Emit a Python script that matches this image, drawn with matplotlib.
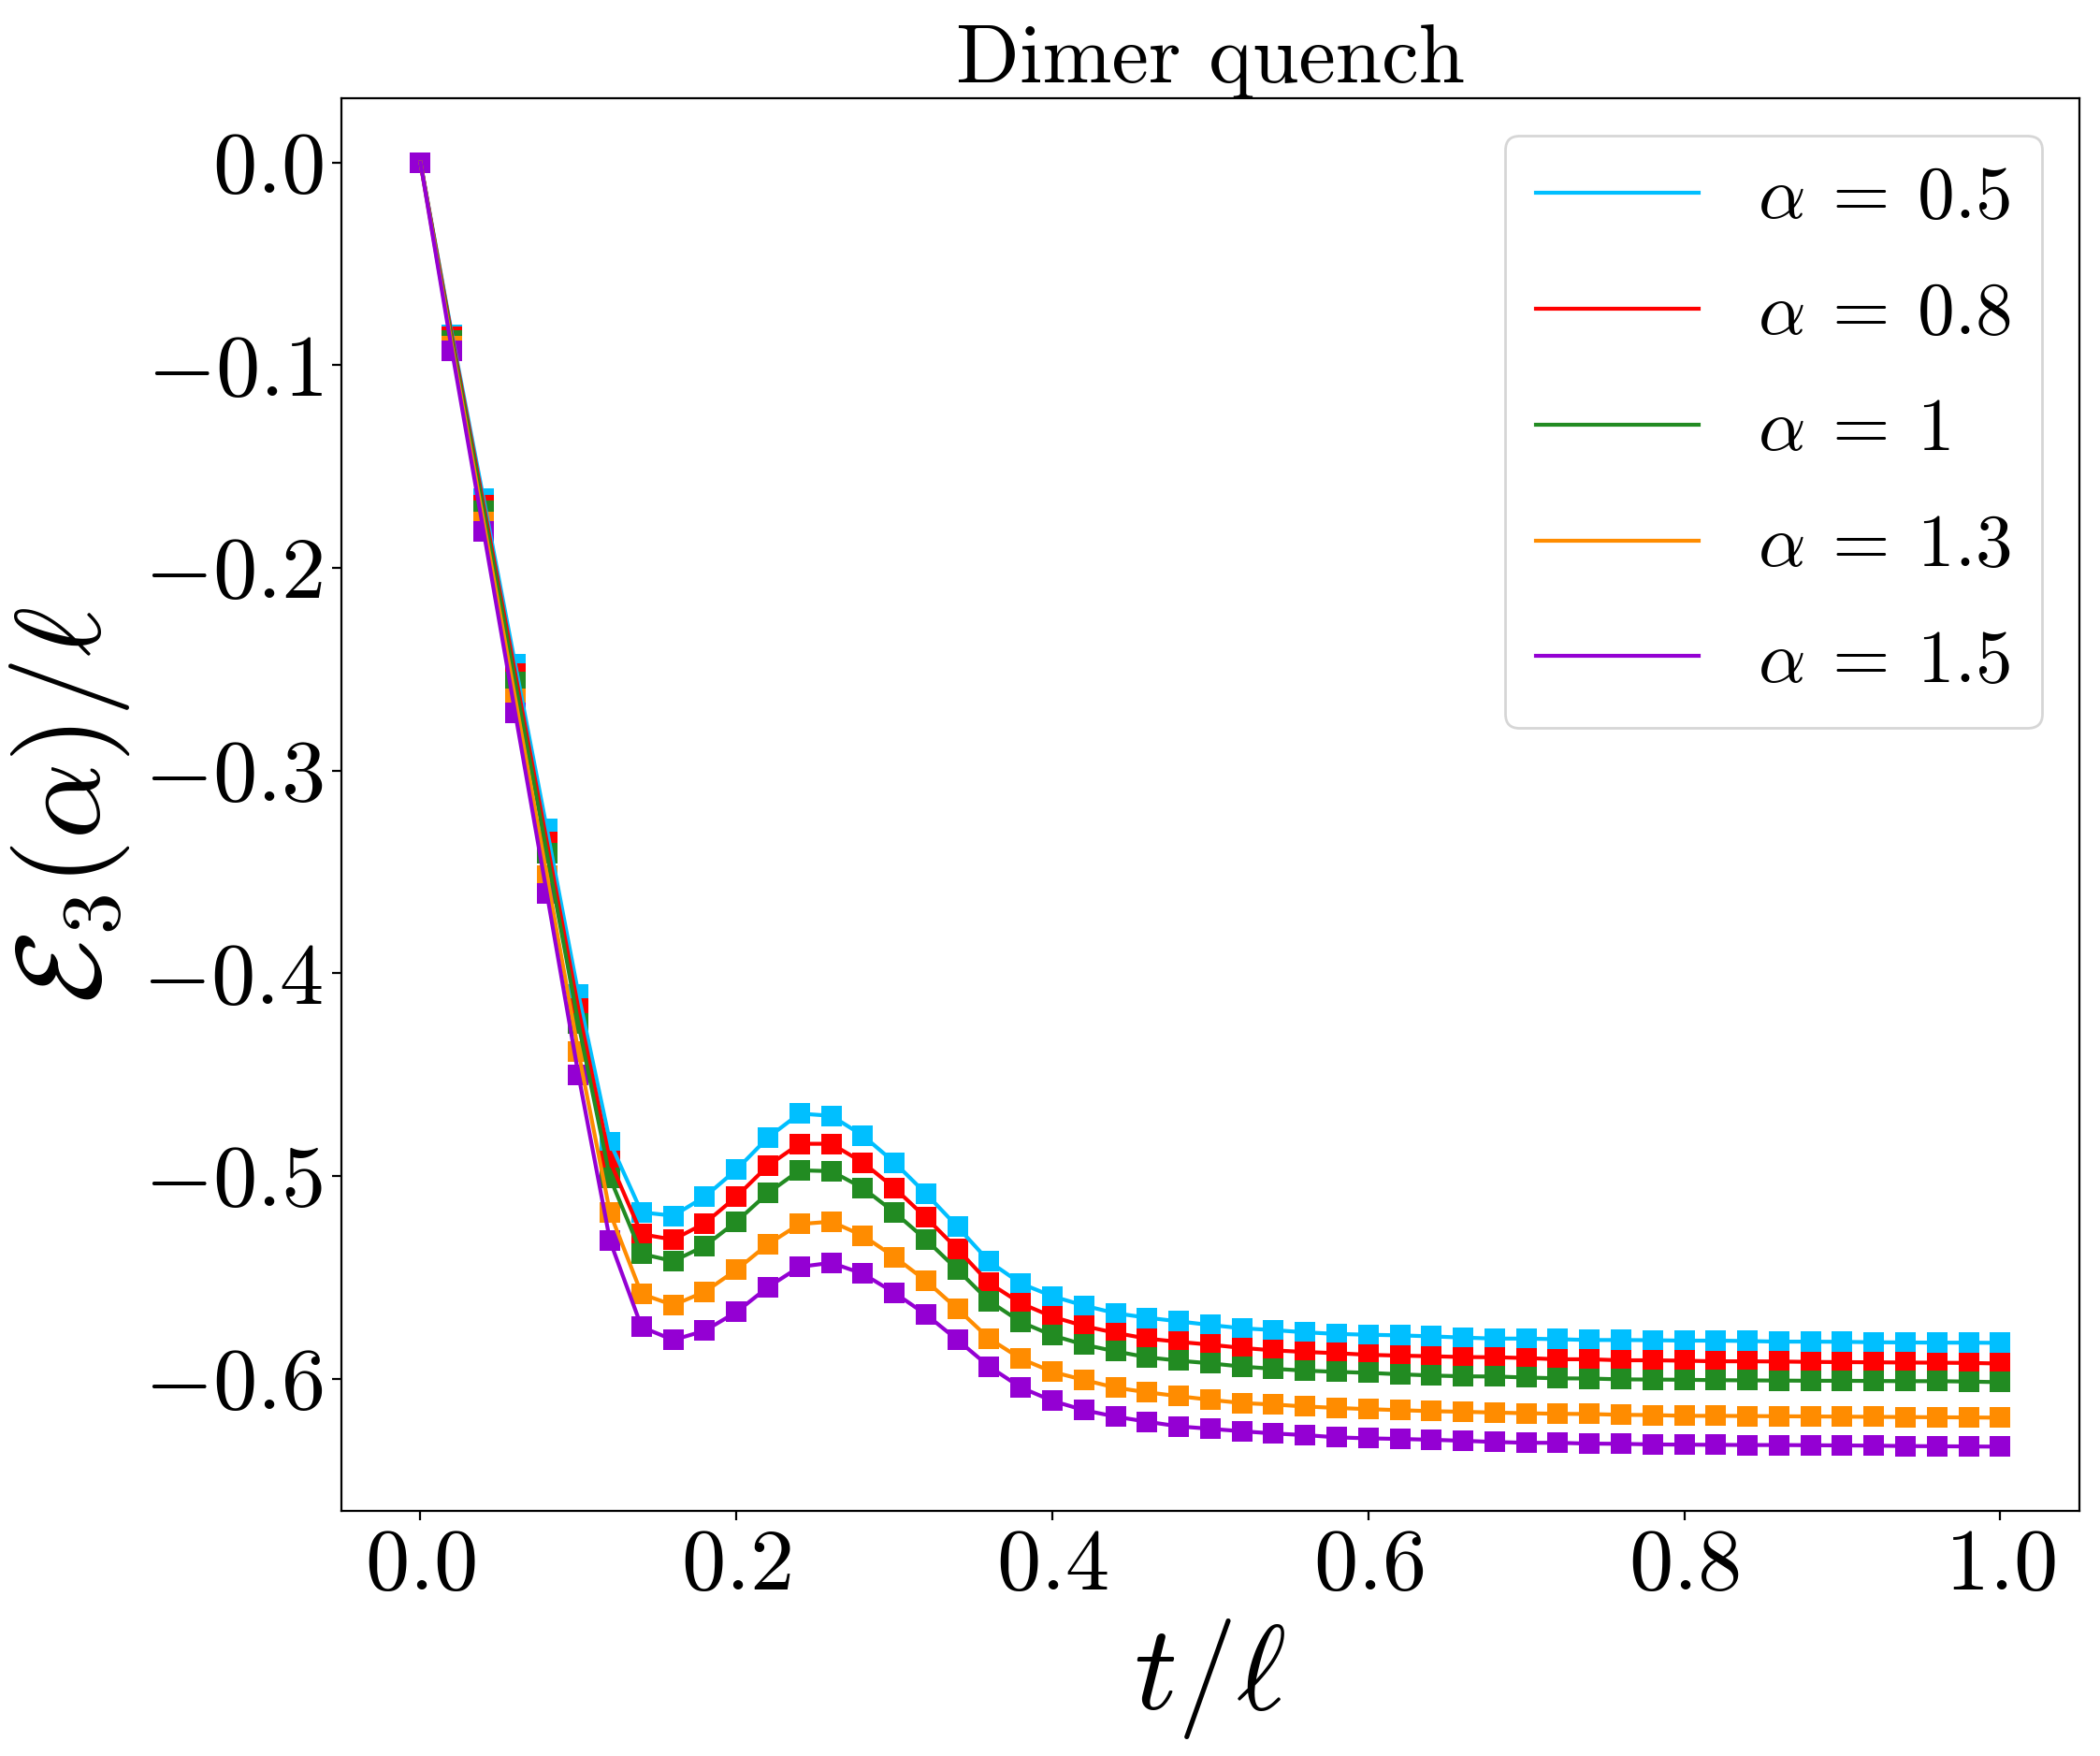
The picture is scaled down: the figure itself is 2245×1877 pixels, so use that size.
import numpy as np
import matplotlib
matplotlib.use("Agg")
import matplotlib.pyplot as plt
from matplotlib.ticker import FuncFormatter

# Computer Modern look without LaTeX
plt.rcParams['mathtext.fontset'] = 'cm'
plt.rcParams['font.family'] = 'serif'
plt.rcParams['font.serif'] = ['cmr10']
plt.rcParams['axes.formatter.use_mathtext'] = True

# time grid t/l
t = np.linspace(0.0, 1.0, 51)

alphas = ['0.5', '0.8', '1', '1.3', '1.5']
colors = ['deepskyblue', 'red', 'forestgreen', 'darkorange', 'darkviolet']

e_05 = [0.0, -0.0850, -0.1661, -0.2476, -0.3287, -0.4103, -0.4834, -0.5179, -0.5196, -0.5102,
        -0.4969, -0.4810, -0.4692, -0.4703, -0.4800, -0.4933, -0.5087, -0.5251, -0.5422, -0.5530,
        -0.5593, -0.5639, -0.5677, -0.5699, -0.5717, -0.5735, -0.5751, -0.5760, -0.5771, -0.5779,
        -0.5783, -0.5786, -0.5791, -0.5797, -0.5802, -0.5802, -0.5805, -0.5809, -0.5809, -0.5810,
        -0.5812, -0.5812, -0.5814, -0.5817, -0.5817, -0.5818, -0.5820, -0.5821, -0.5822, -0.5822,
        -0.5823]
e_08 = [0.0, -0.0862, -0.1692, -0.2522, -0.3352, -0.4176, -0.4927, -0.5287, -0.5314, -0.5233,
        -0.5102, -0.4949, -0.4841, -0.4841, -0.4933, -0.5059, -0.5205, -0.5361, -0.5528, -0.5628,
        -0.5694, -0.5740, -0.5774, -0.5802, -0.5818, -0.5832, -0.5848, -0.5860, -0.5868, -0.5874,
        -0.5882, -0.5886, -0.5889, -0.5893, -0.5894, -0.5898, -0.5904, -0.5904, -0.5909, -0.5909,
        -0.5911, -0.5914, -0.5914, -0.5915, -0.5917, -0.5918, -0.5919, -0.5920, -0.5921, -0.5922,
        -0.5925]
e_10 = [0.0, -0.0880, -0.1720, -0.2565, -0.3406, -0.4249, -0.5010, -0.5384, -0.5420, -0.5345,
        -0.5225, -0.5084, -0.4972, -0.4976, -0.5059, -0.5179, -0.5314, -0.5463, -0.5617, -0.5720,
        -0.5786, -0.5832, -0.5865, -0.5894, -0.5911, -0.5924, -0.5940, -0.5951, -0.5960, -0.5966,
        -0.5971, -0.5978, -0.5984, -0.5988, -0.5989, -0.5994, -0.5998, -0.5999, -0.6003, -0.6004,
        -0.6005, -0.6007, -0.6008, -0.6009, -0.6010, -0.6010, -0.6011, -0.6012, -0.6012, -0.6014,
        -0.6017]
e_13 = [0.0, -0.0908, -0.1775, -0.2645, -0.3518, -0.4388, -0.5182, -0.5582, -0.5637, -0.5571,
        -0.5463, -0.5336, -0.5237, -0.5225, -0.5294, -0.5399, -0.5517, -0.5656, -0.5802, -0.5901,
        -0.5966, -0.6006, -0.6044, -0.6067, -0.6086, -0.6104, -0.6120, -0.6127, -0.6137, -0.6144,
        -0.6150, -0.6155, -0.6160, -0.6163, -0.6167, -0.6170, -0.6173, -0.6174, -0.6178, -0.6179,
        -0.6183, -0.6183, -0.6184, -0.6185, -0.6186, -0.6187, -0.6188, -0.6189, -0.6190, -0.6191,
        -0.6192]
e_15 = [0.0, -0.0931, -0.1821, -0.2717, -0.3605, -0.4501, -0.5320, -0.5745, -0.5809, -0.5763,
        -0.5671, -0.5548, -0.5448, -0.5428, -0.5482, -0.5576, -0.5683, -0.5809, -0.5940, -0.6043,
        -0.6109, -0.6155, -0.6187, -0.6212, -0.6235, -0.6247, -0.6259, -0.6270, -0.6278, -0.6289,
        -0.6294, -0.6297, -0.6301, -0.6306, -0.6312, -0.6316, -0.6316, -0.6320, -0.6321, -0.6324,
        -0.6325, -0.6326, -0.6327, -0.6327, -0.6328, -0.6329, -0.6330, -0.6332, -0.6333, -0.6334,
        -0.6335]
series = [e_05, e_08, e_10, e_13, e_15]

fig = plt.figure(figsize=(11.225, 9.385), dpi=200)
ax = fig.add_axes([0.1626, 0.1396, 0.8275, 0.8045])

# markers first, then the lines on top
for vals, c in zip(series, colors):
    ax.plot(t, vals, 's', color=c, markersize=8, markeredgewidth=0, zorder=2)
for vals, c, a in zip(series, colors, alphas):
    ax.plot(t, vals, '-', color=c, lw=1.5, zorder=3, label=r'$\alpha\:=\:%s$' % a)

ax.set_xticks([0.0, 0.2, 0.4, 0.6, 0.8, 1.0])
ax.set_yticks([0.0, -0.1, -0.2, -0.3, -0.4, -0.5, -0.6])
ax.xaxis.set_major_formatter(FuncFormatter(lambda v, p: r'$%.1f$' % (v + 0.0)))
ax.yaxis.set_major_formatter(FuncFormatter(lambda v, p: r'$%.1f$' % (round(v, 1) + 0.0)))
ax.tick_params(labelsize=34)

ax.set_xlabel(r'$t/\ell$', fontsize=46)
ax.set_ylabel(r'$\mathcal{E}_3(\alpha)/\ell$', fontsize=46)
ax.set_title('Dimer quench', fontsize=32)

ax.legend(fontsize=28.5, loc='upper right', labelspacing=0.66, handlelength=2.2,
          borderpad=0.42)

fig.savefig('out.png', dpi=200)
